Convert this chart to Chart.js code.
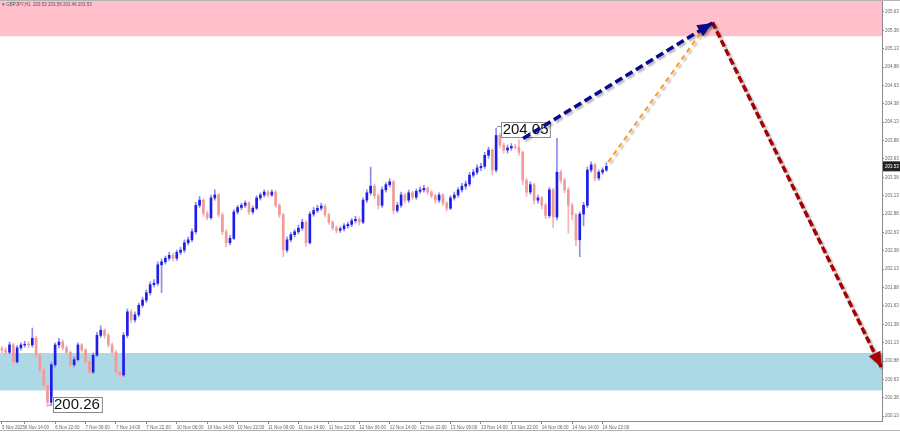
<!DOCTYPE html>
<html>
<head>
<meta charset="utf-8">
<title>GBPJPY H1</title>
<script src="https://cdn.jsdelivr.net/npm/chart.js@4.4.1/dist/chart.umd.min.js"></script>
<style>
  html, body { margin: 0; padding: 0; background: #fff; }
  #wrap { width: 900px; height: 432px; position: relative; }
</style>
</head>
<body>
<div id="wrap"><canvas id="chart"></canvas></div>
<script>
// GBPJPY H1 candles, 5 Nov - 14 Nov 2025
const symbolTitle = '\u25BE GBPJPY,H1  203.53 203.58 203.46 203.53';

const opens = [
  201.05, 201.03, 201.00, 201.10, 200.87, 201.06, 201.10, 201.11, 201.10, 201.19,
  200.96, 200.76, 200.55, 200.32, 200.83, 201.10, 201.14, 201.06, 201.00, 200.83,
  200.90, 201.10, 201.03, 200.87, 200.73, 200.96, 201.23, 201.30, 201.23, 201.10,
  201.00, 200.73, 200.69, 201.23, 201.55, 201.44, 201.51, 201.64, 201.71, 201.81,
  201.92, 201.94, 202.19, 202.23, 202.28, 202.32, 202.28, 202.36, 202.39, 202.49,
  202.53, 202.64, 203.00, 203.07, 202.89, 202.83, 203.10, 203.14, 202.87, 202.64,
  202.49, 202.55, 202.91, 202.97, 203.00, 203.03, 202.91, 202.96, 203.10, 203.14,
  203.18, 203.14, 203.18, 203.00, 202.87, 202.39, 202.53, 202.60, 202.64, 202.69,
  202.77, 202.49, 202.88, 202.93, 202.96, 202.99, 202.87, 202.77, 202.69, 202.66,
  202.68, 202.72, 202.74, 202.79, 202.81, 202.77, 203.07, 203.17, 203.26, 203.13,
  203.00, 203.21, 203.28, 203.32, 202.93, 203.00, 203.14, 203.07, 203.17, 203.11,
  203.19, 203.21, 203.23, 203.18, 203.13, 203.07, 203.14, 203.03, 202.96, 203.10,
  203.14, 203.21, 203.26, 203.29, 203.41, 203.45, 203.51, 203.53, 203.68, 203.75,
  203.48, 203.95, 203.82, 203.75, 203.78, 203.80, 203.79, 203.72, 203.34, 203.18,
  203.28, 203.07, 203.10, 203.00, 202.86, 203.21, 202.84, 203.45, 203.34, 203.21,
  203.00, 202.87, 202.53, 202.88, 203.00, 203.48, 203.55, 203.37, 203.45, 203.48
];
const highs = [
  201.08, 201.06, 201.14, 201.12, 201.09, 201.13, 201.15, 201.14, 201.33, 201.22,
  200.99, 200.80, 200.58, 200.86, 201.13, 201.19, 201.17, 201.09, 201.02, 200.94,
  201.13, 201.12, 201.05, 200.90, 200.99, 201.27, 201.36, 201.32, 201.26, 201.13,
  201.03, 200.77, 201.27, 201.59, 201.58, 201.55, 201.67, 201.75, 201.85, 201.96,
  201.99, 202.23, 202.27, 202.31, 202.36, 202.35, 202.39, 202.43, 202.53, 202.57,
  202.68, 203.04, 203.12, 203.09, 202.92, 203.14, 203.21, 203.16, 202.90, 202.67,
  202.59, 202.94, 203.00, 203.03, 203.06, 203.05, 202.99, 203.13, 203.17, 203.21,
  203.20, 203.21, 203.20, 203.02, 202.89, 202.57, 202.63, 202.67, 202.73, 202.81,
  202.79, 202.91, 202.97, 203.00, 203.03, 203.01, 202.89, 202.79, 202.72, 202.71,
  202.75, 202.77, 202.82, 202.85, 202.84, 203.10, 203.21, 203.52, 203.29, 203.16,
  203.25, 203.31, 203.36, 203.34, 203.04, 203.18, 203.16, 203.21, 203.19, 203.22,
  203.25, 203.27, 203.25, 203.20, 203.15, 203.17, 203.16, 203.05, 203.13, 203.18,
  203.24, 203.30, 203.33, 203.45, 203.49, 203.55, 203.57, 203.72, 203.79, 203.77,
  204.05, 203.98, 203.85, 203.82, 203.84, 203.83, 203.89, 203.74, 203.37, 203.32,
  203.30, 203.14, 203.12, 203.03, 203.24, 203.23, 203.91, 203.48, 203.37, 203.24,
  203.03, 202.89, 202.91, 203.04, 203.52, 203.59, 203.57, 203.48, 203.51, 203.58
];
const lows = [
  200.99, 200.96, 200.98, 200.80, 200.85, 201.03, 201.07, 201.06, 201.07, 200.92,
  200.72, 200.50, 200.26, 200.29, 200.80, 201.06, 201.03, 200.96, 200.79, 200.80,
  200.88, 201.00, 200.84, 200.70, 200.71, 200.94, 201.20, 201.19, 201.07, 200.96,
  200.70, 200.64, 200.67, 201.20, 201.40, 201.41, 201.48, 201.61, 201.68, 201.78,
  201.89, 201.91, 201.81, 202.20, 202.25, 202.24, 202.25, 202.33, 202.36, 202.46,
  202.50, 202.61, 202.97, 202.85, 202.80, 202.81, 203.07, 202.84, 202.60, 202.43,
  202.46, 202.53, 202.88, 202.94, 202.97, 202.88, 202.88, 202.94, 203.07, 203.11,
  203.11, 203.12, 202.97, 202.83, 202.30, 202.36, 202.50, 202.57, 202.61, 202.66,
  202.44, 202.47, 202.85, 202.90, 202.93, 202.84, 202.74, 202.66, 202.62, 202.63,
  202.65, 202.69, 202.71, 202.76, 202.73, 202.75, 203.04, 203.14, 203.09, 202.95,
  202.97, 203.18, 203.25, 202.88, 202.90, 202.97, 203.03, 203.04, 203.08, 203.08,
  203.16, 203.18, 203.15, 203.10, 203.03, 203.04, 202.99, 202.92, 202.94, 203.07,
  203.11, 203.18, 203.22, 203.26, 203.38, 203.42, 203.47, 203.50, 203.64, 203.41,
  203.45, 203.78, 203.71, 203.71, 203.75, 203.76, 203.68, 203.28, 203.12, 203.15,
  203.02, 203.03, 202.95, 202.82, 202.83, 202.70, 202.80, 203.30, 203.17, 202.62,
  202.80, 202.45, 202.30, 202.72, 202.97, 203.45, 203.33, 203.34, 203.42, 203.46
];
const closes = [
  201.03, 201.00, 201.10, 200.87, 201.06, 201.10, 201.11, 201.10, 201.19, 200.96,
  200.76, 200.55, 200.32, 200.83, 201.10, 201.14, 201.06, 201.00, 200.83, 200.90,
  201.10, 201.03, 200.87, 200.73, 200.96, 201.23, 201.30, 201.23, 201.10, 201.00,
  200.73, 200.69, 201.23, 201.55, 201.44, 201.51, 201.64, 201.71, 201.81, 201.92,
  201.94, 202.19, 202.23, 202.28, 202.32, 202.28, 202.36, 202.39, 202.49, 202.53,
  202.64, 203.00, 203.07, 202.89, 202.83, 203.10, 203.14, 202.87, 202.64, 202.49,
  202.55, 202.91, 202.97, 203.00, 203.03, 202.91, 202.96, 203.10, 203.14, 203.18,
  203.14, 203.18, 203.00, 202.87, 202.39, 202.53, 202.60, 202.64, 202.69, 202.77,
  202.49, 202.88, 202.93, 202.96, 202.99, 202.87, 202.77, 202.69, 202.66, 202.68,
  202.72, 202.74, 202.79, 202.81, 202.77, 203.07, 203.17, 203.26, 203.13, 203.00,
  203.21, 203.28, 203.32, 202.93, 203.00, 203.14, 203.07, 203.17, 203.11, 203.19,
  203.21, 203.23, 203.18, 203.13, 203.07, 203.14, 203.03, 202.96, 203.10, 203.14,
  203.21, 203.26, 203.29, 203.41, 203.45, 203.51, 203.53, 203.68, 203.75, 203.48,
  203.95, 203.82, 203.75, 203.78, 203.80, 203.79, 203.72, 203.34, 203.18, 203.28,
  203.07, 203.10, 203.00, 202.86, 203.21, 202.84, 203.45, 203.34, 203.21, 203.00,
  202.87, 202.53, 202.88, 203.00, 203.48, 203.55, 203.37, 203.45, 203.48, 203.53
];

// time axis labels (one every 8 hourly bars)
const timeLabels = [
  '5 Nov 2025', '6 Nov 14:00', '6 Nov 22:00', '7 Nov 06:00', '7 Nov 14:00', '7 Nov 22:00',
  '10 Nov 06:00', '10 Nov 14:00', '10 Nov 22:00', '11 Nov 06:00', '11 Nov 14:00', '11 Nov 22:00',
  '12 Nov 06:00', '12 Nov 14:00', '12 Nov 22:00', '13 Nov 06:00', '13 Nov 14:00', '13 Nov 22:00',
  '14 Nov 06:00', '14 Nov 14:00', '14 Nov 22:00'
];
const firstLabelBar = 6;
const barsPerLabel = 8;
const totalBars = 232;   // chart runs on past the last candle for the forecast

const priceTicks = [
  200.13, 200.38, 200.63, 200.88, 201.13, 201.38, 201.63, 201.88, 202.13, 202.38, 202.63, 202.88,
  203.13, 203.38, 203.63, 203.88, 204.13, 204.38, 204.63, 204.88, 205.13, 205.38, 205.63
];
const priceRange = [200.065, 205.793];

// target zones
const resistanceZone = [205.30, 205.82];
const supportZone = [200.48, 200.99];

// forecast arrows: [bar, price]
const arrowUp = [[137.1, 203.91], [186.9, 205.48]];
const arrowAlt = [[159.5, 203.59], [183.7, 205.34]];
const arrowDown = [[186.9, 205.49], [231.3, 200.80]];

const BULL = '#1e1ee6', BULL_WICK = '#8c8cf0';
const BEAR = '#f29a9a', BEAR_WICK = '#f5b3b3';
const SMALL_FONT = '"Liberation Sans", Arial, sans-serif';

const isBull = opens.map((o, i) => closes[i] >= o);
const toPts = arr => arr.map(([x, y]) => ({ x, y }));

const overlay = {
  id: 'overlay',
  beforeDatasetsDraw(chart) {
    const { ctx, chartArea: a, scales: { y } } = chart;
    ctx.save();
    ctx.beginPath();
    ctx.rect(a.left, a.top, a.width, a.height);
    ctx.clip();
    [[resistanceZone, '#ffc0cb'], [supportZone, '#add8e6']].forEach(([z, color]) => {
      const top = y.getPixelForValue(z[1]);
      const bot = y.getPixelForValue(z[0]);
      ctx.fillStyle = color;
      ctx.fillRect(a.left, top, a.width, bot - top);
    });
    ctx.restore();
  },
  beforeDatasetDraw(chart, args) {
    const ds = chart.data.datasets[args.index];
    if (ds.arrowHead !== undefined) {
      const ctx = chart.ctx;
      ctx.save();
      ctx.shadowColor = 'rgba(0,0,0,0.28)';
      ctx.shadowBlur = 2;
      ctx.shadowOffsetX = 2;
      ctx.shadowOffsetY = 2;
    }
  },
  afterDatasetDraw(chart, args) {
    const ds = chart.data.datasets[args.index];
    const ctx = chart.ctx;
    if (ds.arrowHead !== undefined) {
      if (ds.arrowHead) {
        const pts = args.meta.data;
        const a = pts[pts.length - 2], b = pts[pts.length - 1];
        const ang = Math.atan2(b.y - a.y, b.x - a.x);
        const L = 15, W = 6.5;
        ctx.fillStyle = ds.borderColor;
        ctx.beginPath();
        ctx.moveTo(b.x, b.y);
        ctx.lineTo(b.x - L * Math.cos(ang) + W * Math.sin(ang), b.y - L * Math.sin(ang) - W * Math.cos(ang));
        ctx.lineTo(b.x - L * Math.cos(ang) - W * Math.sin(ang), b.y - L * Math.sin(ang) + W * Math.cos(ang));
        ctx.closePath();
        ctx.fill();
      }
      ctx.restore();
    }
    if (ds.id === 'bodies') {
      // extreme price labels
      const { x, y } = chart.scales;
      const hi = highs.indexOf(Math.max(...highs));
      const lo = lows.indexOf(Math.min(...lows));
      [[hi, highs[hi], 1.5], [lo, lows[lo], -2.5]].forEach(([i, v, dy]) => {
        const px = x.getPixelForValue(i), py = y.getPixelForValue(v);
        const text = v.toFixed(2);
        ctx.save();
        ctx.font = '15px "Liberation Sans", Arial, sans-serif';
        const w = ctx.measureText(text).width + 3;
        const bx = px + 5, by = py + dy - 7.5;
        ctx.strokeStyle = '#8a8a8a';
        ctx.lineWidth = 1;
        ctx.beginPath();
        ctx.moveTo(px + 1, py - 1.5);
        ctx.lineTo(bx, py - 1.5);
        ctx.stroke();
        ctx.fillStyle = '#fff';
        ctx.fillRect(bx, by, w, 15);
        ctx.strokeRect(Math.round(bx) + 0.5, Math.round(by) + 0.5, w, 15);
        ctx.fillStyle = '#111';
        ctx.textBaseline = 'middle';
        ctx.fillText(text, bx + 1.5, by + 8);
        ctx.restore();
      });
    }
  },
  afterDraw(chart) {
    const { ctx, chartArea: a, scales: { y } } = chart;
    ctx.save();
    // frame lines
    ctx.strokeStyle = '#b4b4b4';
    ctx.lineWidth = 1;
    ctx.beginPath();
    ctx.moveTo(0, 0.5); ctx.lineTo(chart.width, 0.5);
    ctx.moveTo(0, chart.height - 1.5); ctx.lineTo(chart.width, chart.height - 1.5);
    ctx.stroke();
    // symbol caption
    ctx.font = '4.5px ' + SMALL_FONT;
    ctx.fillStyle = '#555';
    ctx.textBaseline = 'middle';
    ctx.fillText(symbolTitle, 2, 5);
    // last price marker
    const last = closes[closes.length - 1];
    const py = y.getPixelForValue(last);
    ctx.fillStyle = '#222';
    ctx.fillRect(a.right + 1, py - 5, chart.width - a.right - 1, 10);
    ctx.fillStyle = '#fff';
    ctx.fillText(last.toFixed(2), a.right + 3, py);
    ctx.restore();
  }
};

const idx = opens.map((_, i) => i);

new Chart(document.getElementById('chart'), {
  type: 'bar',
  data: {
    datasets: [
      {
        type: 'line', label: 'up', arrowHead: true, order: 0,
        data: toPts(arrowUp), borderColor: '#0a0a8c', borderWidth: 3.5,
        borderDash: [8, 4], pointRadius: 0, fill: false
      },
      {
        type: 'line', label: 'alt', arrowHead: false, order: 0,
        data: toPts(arrowAlt), borderColor: '#ff9a1a', borderWidth: 2,
        borderDash: [5, 4], pointRadius: 0, fill: false
      },
      {
        type: 'line', label: 'down', arrowHead: true, order: 0,
        data: toPts(arrowDown), borderColor: '#a80000', borderWidth: 3.5,
        borderDash: [7, 3], pointRadius: 0, fill: false
      },
      {
        id: 'bodies', order: 1, grouped: false, barThickness: 2,
        data: idx.map(i => ({ x: i, y: [opens[i], closes[i]] })),
        backgroundColor: isBull.map(b => b ? BULL : BEAR)
      },
      {
        id: 'wicks', order: 2, grouped: false, barThickness: 1,
        data: idx.map(i => ({ x: i, y: [lows[i], highs[i]] })),
        backgroundColor: isBull.map(b => b ? BULL_WICK : BEAR_WICK)
      }
    ]
  },
  options: {
    responsive: true,
    maintainAspectRatio: false,
    animation: false,
    layout: { padding: 0, autoPadding: false },
    plugins: { legend: { display: false }, tooltip: { enabled: false } },
    scales: {
      x: {
        type: 'linear', offset: false,
        min: -0.5, max: totalBars - 0.5,
        grid: { drawOnChartArea: false, offset: false, tickLength: 3, color: '#8a8a8a' },
        border: { color: '#8a8a8a' },
        afterBuildTicks: s => {
          s.ticks = timeLabels.map((_, k) => ({ value: k === 0 ? 0 : firstLabelBar + (k - 1) * barsPerLabel }));
        },
        afterFit: s => { s.height = 11; s.paddingLeft = 0; s.paddingRight = 0; },
        ticks: {
          autoSkip: false, maxRotation: 0, align: 'start', padding: 1,
          font: { size: 4.5, family: SMALL_FONT }, color: '#666',
          callback: (v, k) => timeLabels[k]
        }
      },
      y: {
        position: 'right',
        min: priceRange[0], max: priceRange[1],
        grid: { drawOnChartArea: false, tickLength: 2, color: '#8a8a8a' },
        border: { color: '#8a8a8a' },
        afterBuildTicks: s => { s.ticks = priceTicks.map(v => ({ value: v })); },
        afterFit: s => { s.width = 18; s.paddingTop = 0; s.paddingBottom = 0; },
        ticks: {
          padding: 1,
          font: { size: 4.5, family: SMALL_FONT }, color: '#666',
          callback: v => v.toFixed(2)
        }
      }
    }
  },
  plugins: [overlay]
});
</script>
</body>
</html>
